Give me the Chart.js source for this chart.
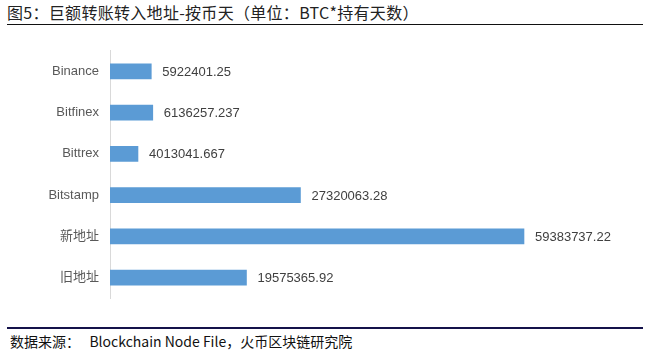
<!DOCTYPE html>
<html>
<head>
<meta charset="utf-8">
<script src="https://cdn.jsdelivr.net/npm/chart.js@4.4.1/dist/chart.umd.min.js"></script>
<style>
  html,body{margin:0;padding:0;background:#fff;}
  #wrap{position:relative;width:655px;height:357px;overflow:hidden;background:#fff;}
  #title{position:absolute;left:7px;top:2px;font-family:"Noto Sans CJK SC","Liberation Sans",sans-serif;font-size:16px;line-height:20px;color:#222;white-space:nowrap;letter-spacing:0.3px;}
  #tline{position:absolute;left:7px;top:24px;width:636px;height:1px;background:#111;}
  #fline{position:absolute;left:7px;top:327px;width:636px;height:2px;background:#14124a;}
  #foot{position:absolute;left:10px;top:331px;font-family:"Noto Sans CJK SC","Liberation Sans",sans-serif;font-size:14px;line-height:20px;color:#111;white-space:pre;}
  #cv{position:absolute;left:0;top:32px;}
</style>
</head>
<body>
<div id="wrap">
  <div id="title">图5：巨额转账转入地址-按币天（单位：BTC*持有天数）</div>
  <div id="tline"></div>
  <canvas id="cv" width="655" height="285"></canvas>
  <div id="fline"></div>
  <div id="foot">数据来源：   Blockchain Node File，火币区块链研究院</div>
</div>
<script>
const categories = ["Binance", "Bitfinex", "Bittrex", "Bitstamp", "新地址", "旧地址"];
const values = [5922401.25, 6136257.237, 4013041.667, 27320063.28, 59383737.22, 19575365.92];
const valueLabels = ["5922401.25", "6136257.237", "4013041.667", "27320063.28", "59383737.22", "19575365.92"];

const labelFont = '13px "Liberation Sans", "Noto Sans CJK SC", sans-serif';

const barLabels = {
  id: 'barLabels',
  afterDatasetsDraw(chart) {
    const ctx = chart.ctx;
    const meta = chart.getDatasetMeta(0);
    ctx.save();
    ctx.font = labelFont;
    ctx.fillStyle = '#404040';
    ctx.textAlign = 'left';
    ctx.textBaseline = 'middle';
    meta.data.forEach((bar, i) => {
      ctx.fillText(valueLabels[i], bar.x + 11, bar.y + 1);
    });
    ctx.restore();
  }
};

new Chart(document.getElementById('cv'), {
  type: 'bar',
  data: {
    labels: categories,
    datasets: [{
      data: values,
      backgroundColor: '#5b9bd5',
      borderWidth: 0,
      barThickness: 15
    }]
  },
  options: {
    indexAxis: 'y',
    responsive: false,
    animation: false,
    layout: { padding: { top: 0, bottom: 0, right: 57, left: 0 } },
    plugins: { legend: { display: false }, tooltip: { enabled: false } },
    scales: {
      x: {
        min: 0,
        max: 70000000,
        display: false
      },
      y: {
        grid: { display: false, drawTicks: false },
        border: { display: true, color: '#d9d9d9', width: 1 },
        ticks: {
          padding: 11,
          color: '#595959',
          font: { family: '"Liberation Sans", "Noto Sans CJK SC", sans-serif', size: 13 }
        },
        afterFit(scale) { scale.width = 110; }
      }
    }
  },
  plugins: [barLabels]
});
</script>
</body>
</html>
